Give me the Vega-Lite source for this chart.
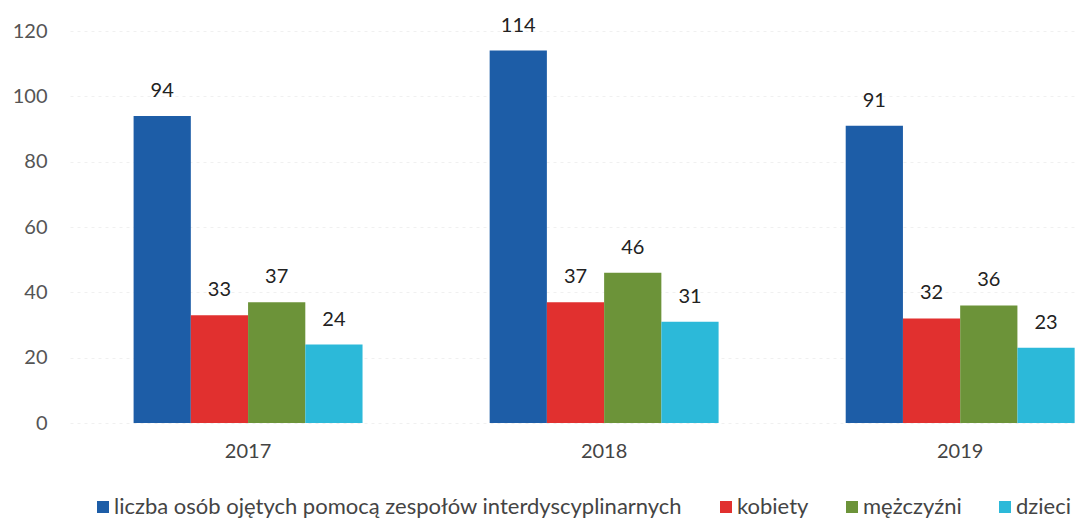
{
  "$schema": "https://vega.github.io/schema/vega-lite/v6.json",
  "width": 1008,
  "height": 392,
  "autosize": {"type": "none"},
  "padding": {"left": 70, "top": 31, "right": 0, "bottom": 96},
  "background": "white",
  "config": {
    "view": {"stroke": null},
    "font": "Lato",
    "axis": {"labelFont": "Lato", "titleFont": "Lato"},
    "legend": {"labelFont": "Lato"}
  },
  "data": {
    "values": [
      {"rok": "2017", "seria": "liczba osób ojętych pomocą zespołów interdyscyplinarnych", "wartosc": 94},
      {"rok": "2017", "seria": "kobiety", "wartosc": 33},
      {"rok": "2017", "seria": "mężczyźni", "wartosc": 37},
      {"rok": "2017", "seria": "dzieci", "wartosc": 24},
      {"rok": "2018", "seria": "liczba osób ojętych pomocą zespołów interdyscyplinarnych", "wartosc": 114},
      {"rok": "2018", "seria": "kobiety", "wartosc": 37},
      {"rok": "2018", "seria": "mężczyźni", "wartosc": 46},
      {"rok": "2018", "seria": "dzieci", "wartosc": 31},
      {"rok": "2019", "seria": "liczba osób ojętych pomocą zespołów interdyscyplinarnych", "wartosc": 91},
      {"rok": "2019", "seria": "kobiety", "wartosc": 32},
      {"rok": "2019", "seria": "mężczyźni", "wartosc": 36},
      {"rok": "2019", "seria": "dzieci", "wartosc": 23}
    ]
  },
  "encoding": {
    "x": {
      "field": "rok",
      "type": "nominal",
      "scale": {"paddingInner": 0.357, "paddingOuter": 0.094, "align": 0.95},
      "axis": {
        "title": null,
        "labelAngle": 0,
        "ticks": false,
        "domain": false,
        "labelFontSize": 20,
        "labelColor": "#444444",
        "labelPadding": 18
      }
    },
    "xOffset": {
      "field": "seria",
      "type": "nominal",
      "sort": ["liczba osób ojętych pomocą zespołów interdyscyplinarnych", "kobiety", "mężczyźni", "dzieci"],
      "scale": {"paddingInner": 0, "paddingOuter": 0}
    },
    "y": {
      "field": "wartosc",
      "type": "quantitative",
      "scale": {"domain": [0, 120]},
      "axis": {
        "title": null,
        "values": [0, 20, 40, 60, 80, 100, 120],
        "ticks": false,
        "domain": false,
        "labelFontSize": 20,
        "labelColor": "#555555",
        "labelPadding": 23,
        "gridColor": "#f0f0f0",
        "gridDash": [3, 4],
        "gridWidth": 1
      }
    }
  },
  "layer": [
    {
      "mark": {"type": "bar"},
      "encoding": {
        "color": {
          "field": "seria",
          "type": "nominal",
          "sort": ["liczba osób ojętych pomocą zespołów interdyscyplinarnych", "kobiety", "mężczyźni", "dzieci"],
          "scale": {
            "domain": ["liczba osób ojętych pomocą zespołów interdyscyplinarnych", "kobiety", "mężczyźni", "dzieci"],
            "range": ["#1d5da7", "#e1302f", "#6c9339", "#2cb9d9"]
          },
          "legend": {
            "title": null,
            "orient": "none",
            "direction": "horizontal",
            "legendX": 22,
            "legendY": 465,
            "symbolType": "square",
            "symbolSize": 144,
            "symbolStrokeWidth": 0,
            "labelFontSize": 22,
            "labelColor": "#444444",
            "labelLimit": 700,
            "columnPadding": 32,
            "labelOffset": 0
          }
        }
      }
    },
    {
      "mark": {"type": "text", "baseline": "alphabetic", "dy": -19, "fontSize": 20, "color": "#222222"},
      "encoding": {
        "text": {"field": "wartosc", "type": "quantitative"}
      }
    }
  ]
}
